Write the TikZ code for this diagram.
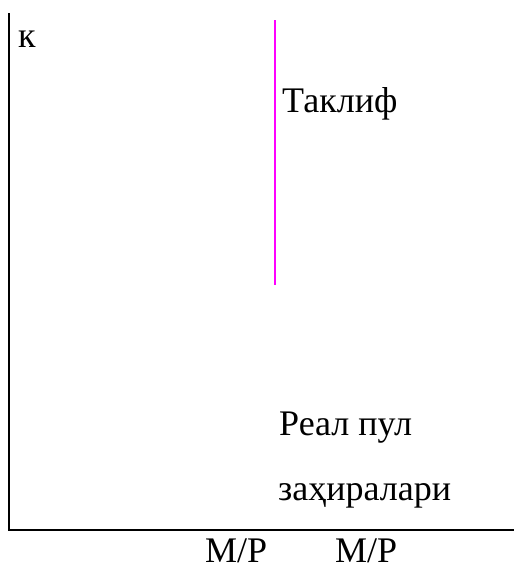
\documentclass[tikz,border=0pt]{standalone}
\usepackage{fontspec}
\setmainfont{Liberation Serif}
\newfontfamily\tnr{Liberation Serif}
\definecolor{supplycol}{RGB}{255,0,255}
\begin{document}
\begin{tikzpicture}[x=1pt,y=-1pt,
  lbl/.style={anchor=base west,inner sep=0pt,font=\tnr\fontsize{36}{40}\selectfont},
  axisline/.style={draw=black,line width=2pt},
  supplyline/.style={draw=supplycol,line width=2pt}]
\useasboundingbox (0,0) rectangle (514,565);
\coordinate (top) at (9,13);
\coordinate (origin) at (9,530);
\coordinate (right) at (514,530);
\draw[axisline] (top) -- (origin) -- (right);
\coordinate (stop) at (275,20);
\coordinate (sbot) at (275,285);
\draw[supplyline] (stop) -- (sbot);
\node[lbl] (k) at (18,47) {к};
\node[lbl] (taklif) at (282,112) {Таклиф};
\node[lbl] (real) at (279,435) {Реал пул};
\node[lbl] (zax) at (278,500) {заҳиралари};
\node[lbl] (mp1) at (205,562) {M/P};
\node[lbl] (mp2) at (335,562) {M/P};
\end{tikzpicture}
\end{document}
